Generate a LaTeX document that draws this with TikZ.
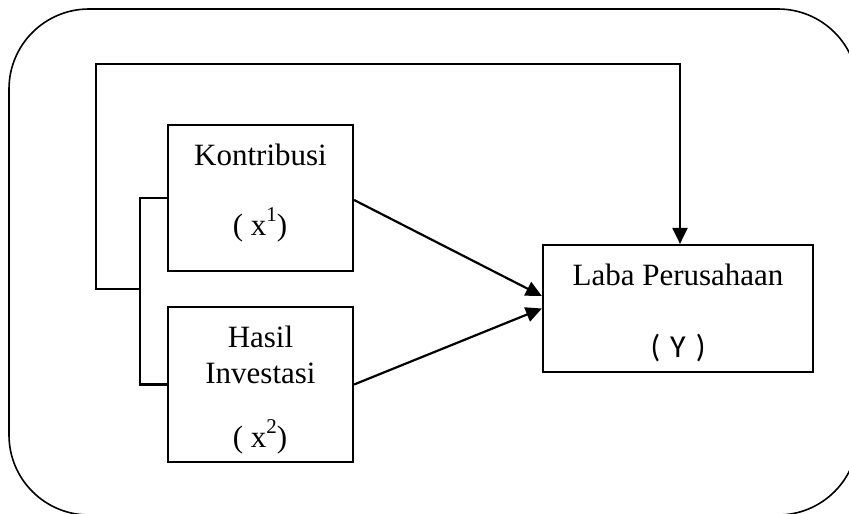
\documentclass[tikz,border=0pt]{standalone}
\usepackage{fontspec}
\setmainfont{Liberation Serif}
\newfontfamily\yfont{Carlito}
\usetikzlibrary{arrows.meta}
\tikzset{
  box/.style={draw, line width=2.2pt, rectangle, inner sep=0pt},
  lbl/.style={anchor=base, inner sep=0pt, font=\fontsize{31}{37}\selectfont},
  conn/.style={line width=2.2pt, line join=miter},
  arr/.style={conn, -{Triangle[length=16pt,width=15pt]}},
  frame/.style={draw, line width=1.6pt, rounded corners=80pt}
}
\newcommand{\supnum}[1]{\raisebox{0.42em}{\fontsize{21}{21}\selectfont #1}}
\begin{document}
\begin{tikzpicture}[x=1pt,y=-1pt]
\useasboundingbox (0,0) rectangle (849,514);
\begin{scope}
\clip (0,0) rectangle (849,514);
\draw[frame] (9,9) rectangle (858,515);
\end{scope}
% boxes
\node[box, minimum width=185pt, minimum height=146pt] (k) at (260.5,198) {};
\node[box, minimum width=185pt, minimum height=155pt] (h) at (260.5,384.5) {};
\node[box, minimum width=270pt, minimum height=127pt] (l) at (678,308.5) {};
% texts
\node[lbl] (tk1) at (260.5,165) {Kontribusi};
\node[lbl] (tk2) at (260,235) {( x\supnum{1})};
\node[lbl] (th1) at (260.5,347) {Hasil};
\node[lbl] (th2) at (260.5,383) {Investasi};
\node[lbl] (th3) at (260,447) {( x\supnum{2})};
\node[lbl] (tl1) at (678,285) {Laba Perusahaan};
\node[lbl] (tl2) at (678,357) {\yfont\fontsize{32}{37}\selectfont (\hspace{10pt}Y\hspace{10pt})};
% connectors
\coordinate (j) at (141,289);
\draw[conn] (k.west) -- ++(-27,0) |- (h.west);
\draw[arr] (j) -- (96,289) -- (96,64) -- (680,64) -- ([xshift=2pt]l.north);
\draw[arr] ([yshift=-2pt]k.east) -- ([yshift=12.5pt]l.west);
\draw[arr] (h.east) -- (l.west);
\end{tikzpicture}
\end{document}
